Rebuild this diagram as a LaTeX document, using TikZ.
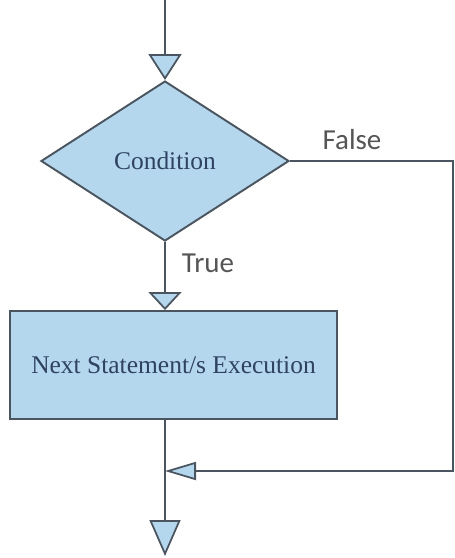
\documentclass[tikz,border=0pt]{standalone}
\usepackage{fontspec}
\setmainfont{Liberation Serif}
\newfontfamily\labelfont{Carlito}
\usetikzlibrary{shapes.geometric,arrows.meta}
\definecolor{shapeblue}{HTML}{B4D7EE}
\definecolor{edgegray}{HTML}{4A5560}
\definecolor{textnavy}{HTML}{2F4260}
\definecolor{labelgray}{HTML}{555555}

\begin{document}
\begin{tikzpicture}[
  flowline/.style={draw=edgegray, line width=1pt},
  shapebox/.style={draw=edgegray, line width=1.1pt, fill=shapeblue, text=textnavy, font=\fontsize{14.5}{16}\selectfont},
  branchlabel/.style={text=labelgray, font=\labelfont\fontsize{16.5}{18}\selectfont}
]
\useasboundingbox (0,0) rectangle (9.1,-11.16);
% shapes
\coordinate (start) at (3.3,0);
\node[shapebox, diamond, minimum width=4.96cm, minimum height=3.2cm, inner sep=0pt] (cond) at (3.3,-3.22) {Condition};
\node[shapebox, rectangle, minimum width=6.54cm, minimum height=2.16cm] (exec) at (3.47,-7.3) {Next Statement/s Execution};
\coordinate (falseturn) at (9.06,-3.22);
\coordinate (falsedown) at (9.06,-9.42);
\coordinate (merge) at (3.3,-9.42);
\coordinate (finish) at (3.3,-11.12);
% connectors
\draw[flowline, -{Triangle[length=0.52cm,width=0.66cm,fill=shapeblue]}] (start) -- (cond.north);
\draw[flowline, -{Triangle[length=0.36cm,width=0.66cm,fill=shapeblue]}] (cond.south) -- (cond.south |- exec.north);
\draw[flowline, -{Triangle[length=0.62cm,width=0.36cm,fill=shapeblue]}] (cond.east) -- (falseturn) -- (falsedown) -- (merge);
\draw[flowline, -{Triangle[length=0.72cm,width=0.62cm,fill=shapeblue]}] (exec.south -| merge) -- (finish);
% labels
\node[branchlabel] (falselbl) at (7.04,-2.8) {False};
\node[branchlabel] (truelbl) at (4.16,-5.26) {True};
\end{tikzpicture}
\end{document}
